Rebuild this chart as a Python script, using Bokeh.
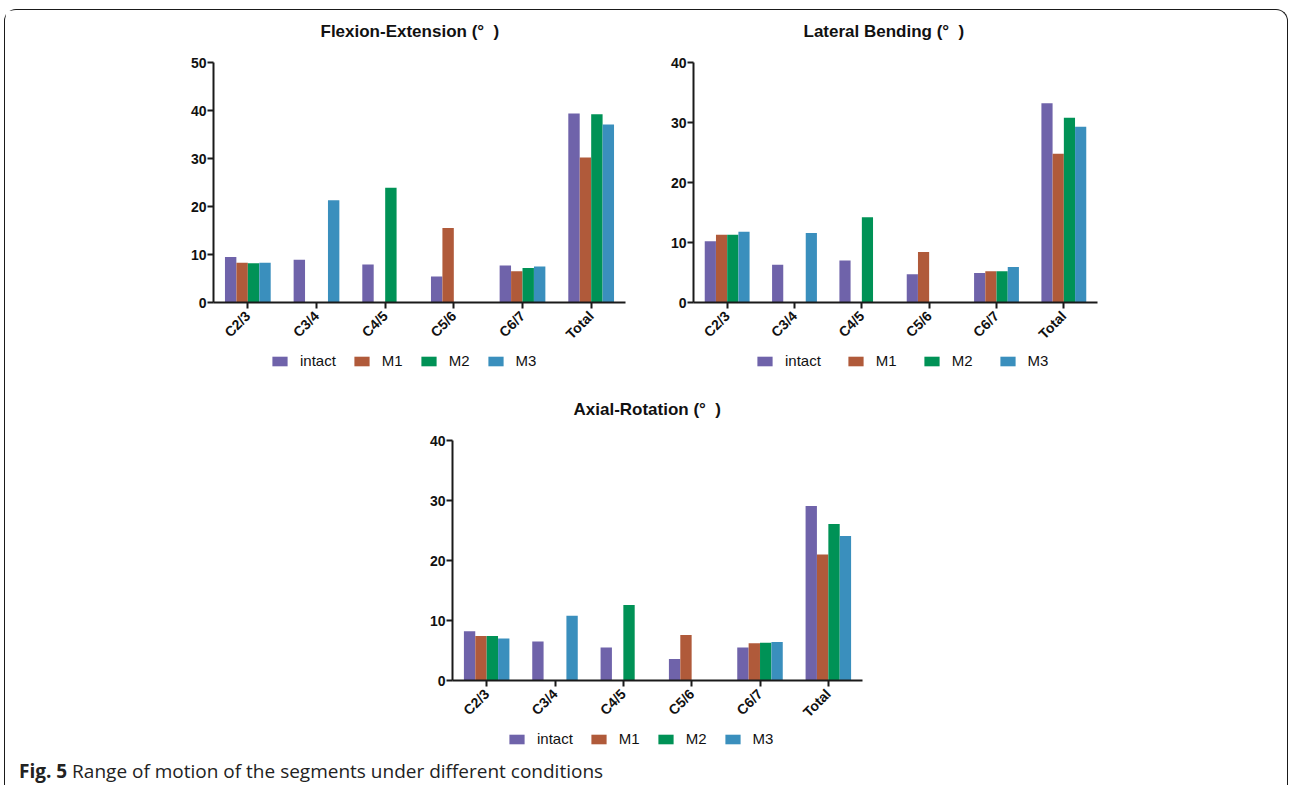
from bokeh.plotting import figure
from bokeh.models import FactorRange, Range1d, Legend, LegendItem, FixedTicker, Div, Spacer, Title
from bokeh.transform import dodge
from bokeh.layouts import column, row
from bokeh.embed import file_html
from bokeh.resources import INLINE

categories = ["C2/3", "C3/4", "C4/5", "C5/6", "C6/7", "Total"]
series = ["intact", "M1", "M2", "M3"]
colors = ["#6f63aa", "#b05a3a", "#009256", "#3a8fbd"]

fe_intact = [9.5, 8.9, 7.9, 5.4, 7.7, 39.4]
fe_m1 = [8.3, 0, 0, 15.5, 6.5, 30.2]
fe_m2 = [8.2, 0, 23.9, 0, 7.2, 39.2]
fe_m3 = [8.3, 21.3, 0, 0, 7.5, 37.1]

lb_intact = [10.2, 6.3, 7.0, 4.7, 4.9, 33.2]
lb_m1 = [11.3, 0, 0, 8.4, 5.2, 24.8]
lb_m2 = [11.3, 0, 14.2, 0, 5.2, 30.8]
lb_m3 = [11.8, 11.6, 0, 0, 5.9, 29.3]

ar_intact = [8.2, 6.5, 5.5, 3.6, 5.5, 29.1]
ar_m1 = [7.4, 0, 0, 7.6, 6.2, 21.0]
ar_m2 = [7.4, 0, 12.6, 0, 6.3, 26.1]
ar_m3 = [7.0, 10.8, 0, 0, 6.4, 24.1]

FONT = "Liberation Sans"


def make_chart(title, values, ymax, width, height, mb_left, mb_right, mb_top, mb_bottom,
               title_offset):
    p = figure(x_range=FactorRange(factors=categories), y_range=Range1d(0, ymax),
               width=width, height=height, output_backend="svg", toolbar_location=None,
               min_border_left=mb_left, min_border_right=mb_right,
               min_border_top=mb_top, min_border_bottom=mb_bottom,
               title=None)
    p.outline_line_color = None
    p.xgrid.visible = False
    p.ygrid.visible = False
    # gap between frame and title (innermost above-panel item)
    p.add_layout(Title(text="\u00a0", text_font_size="10px", standoff=9), "above")
    p.add_layout(Title(text=title, align="left", offset=title_offset, standoff=0,
                       text_font=FONT, text_font_size="17px", text_font_style="bold",
                       text_color="#111111"), "above")

    data = {"cat": categories}
    for s, v in zip(series, values):
        data[s] = v
    offsets = [-0.25, -0.0833, 0.0833, 0.25]
    for s, c, off in zip(series, colors, offsets):
        p.vbar(x=dodge("cat", off, range=p.x_range), top=s, width=0.166, bottom=0,
               source=data, fill_color=c, line_color=None)

    for ax in (p.xaxis[0], p.yaxis[0]):
        ax.axis_line_width = 2
        ax.axis_line_color = "#1a1a1a"
        ax.major_tick_line_width = 2
        ax.major_tick_line_color = "#1a1a1a"
        ax.major_tick_out = 6
        ax.major_tick_in = 0
        ax.minor_tick_out = 0
        ax.minor_tick_in = 0
        ax.major_label_text_font = FONT
        ax.major_label_text_font_size = "14px"
        ax.major_label_text_font_style = "bold"
        ax.major_label_text_color = "#111111"
    p.yaxis[0].ticker = FixedTicker(ticks=list(range(0, ymax + 1, 10)))
    p.yaxis[0].major_label_standoff = 1
    p.xaxis[0].major_label_orientation = 0.785
    p.xaxis[0].major_label_standoff = 5
    return p


def make_legend(width, height, loc, spacing):
    q = figure(width=width, height=height, x_range=Range1d(0, 1), y_range=Range1d(0, 1),
               output_backend="svg", toolbar_location=None,
               min_border_left=0, min_border_right=0, min_border_top=0, min_border_bottom=0)
    q.axis.visible = False
    q.grid.visible = False
    q.outline_line_color = None
    # zero-height swatch carriers: one row per series, nothing visible is drawn
    src = {"series": series, "color": colors,
           "x": [0.5] * len(series), "h": [0] * len(series)}
    r = q.vbar(x="x", top="h", bottom="h", width=0.01, source=src,
               fill_color="color", line_color=None)
    items = [LegendItem(label=s, renderers=[r], index=i) for i, s in enumerate(series)]
    leg = Legend(items=items, orientation="horizontal", location=loc,
                 border_line_color=None, background_fill_alpha=0,
                 label_text_font=FONT, label_text_font_size="15px", label_text_color="#111111",
                 glyph_width=19, glyph_height=12, spacing=spacing, label_standoff=11,
                 padding=0, margin=0)
    q.add_layout(leg, "center")
    return q


f1 = make_chart("Flexion-Extension (°\u00a0\u00a0)", [fe_intact, fe_m1, fe_m2, fe_m3], 50,
                640, 340, 208, 20, 52, 48, 107)
l1 = make_legend(640, 36, (57, 17), 16)
f2 = make_chart("Lateral Bending (°\u00a0\u00a0)", [lb_intact, lb_m1, lb_m2, lb_m3], 40,
                475, 340, 48, 23, 52, 48, 110)
l2 = make_legend(475, 36, (62, 17), 25)
f3 = make_chart("Axial-Rotation (°\u00a0\u00a0)", [ar_intact, ar_m1, ar_m2, ar_m3], 40,
                490, 342, 60, 20, 54, 48, 121)
l3 = make_legend(490, 26, (55, 7), 16)

cap = Div(text="<b>Fig. 5</b> Range of motion of the segments under different conditions",
          width=1000, height=22,
          styles={"font-family": "Open Sans", "font-size": "19px", "color": "#222222",
                  "padding-left": "9px", "margin-top": "4px"})

layout = column(row(column(f1, l1), column(f2, l2), Spacer(width=167, height=10)),
                row(Spacer(width=387, height=10), column(f3, l3)),
                cap,
                styles={"border": "1.5px solid #1a1a1a", "border-bottom": "none",
                        "border-radius": "12px 12px 0 0",
                        "margin-left": "4px", "margin-top": "9px"})

open("out.html", "w").write(file_html(layout, INLINE))
